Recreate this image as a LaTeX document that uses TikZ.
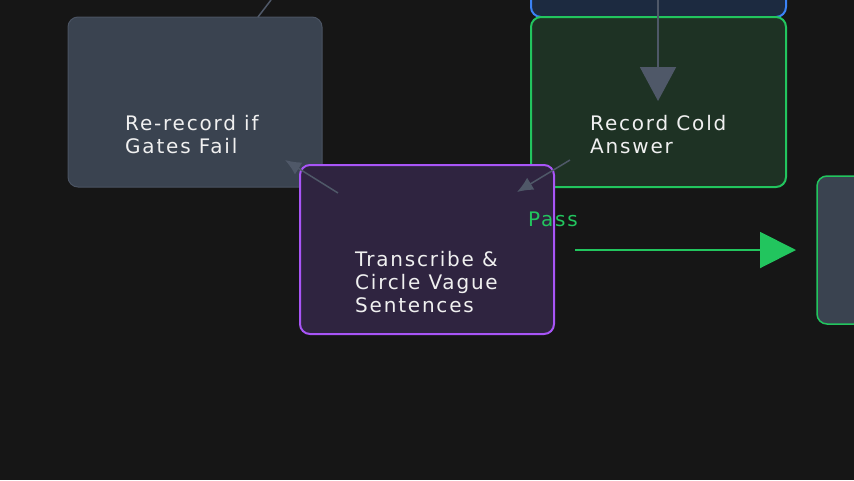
\documentclass[tikz,border=0pt]{standalone}
\usepackage{fontspec}
\setmainfont{DejaVu Sans}[LetterSpace=9]
\usetikzlibrary{arrows.meta}
\definecolor{bg}{HTML}{161616}
\definecolor{grayfill}{HTML}{3A4350}
\definecolor{grayline}{HTML}{4A5362}
\definecolor{conn}{HTML}{4F5868}
\definecolor{gfill}{HTML}{1E3224}
\definecolor{gline}{HTML}{22C55E}
\definecolor{pfill}{HTML}{2F2440}
\definecolor{pline}{HTML}{A855F7}
\definecolor{bfill}{HTML}{1C2A40}
\definecolor{bline}{HTML}{3B82F6}
\definecolor{txt}{HTML}{F0F0F0}
\tikzset{
 box/.style={rounded corners=10pt, line width=2pt},
 lbl/.style={text=txt, font=\fontsize{20}{23}\selectfont, align=left, anchor=west, inner sep=0pt},
 thin/.style={draw=conn, line width=1.5pt, -{Latex[length=16pt,width=14pt]}},
}
\begin{document}
\begin{tikzpicture}[x=1pt,y=-1pt]
\fill[bg] (0,0) rectangle (854,480);
\useasboundingbox (0,0) rectangle (854,480);
\draw[box, fill=bfill, draw=bline] (531,-30) rectangle (786,17);
\draw[box, fill=grayfill, draw=grayline, line width=1pt] (68,17) rectangle (322,187);
\draw[box, fill=gfill, draw=gline] (531,17) rectangle (786,187);
\draw[box, fill=pfill, draw=pline] (300,165) rectangle (554,334);
\draw[box, fill=grayfill, draw=gline, line width=1.5pt] (817,176) rectangle (900,324);
\node[lbl] (rr) at (125,135) {Re-record if\\Gates Fail};
\node[lbl] (rc) at (590,135) {Record Cold\\Answer};
\node[lbl] (tc) at (355,282) {Transcribe \&\\Circle Vague\\Sentences};
\node[text=gline, font=\fontsize{20}{23}\selectfont, inner sep=0pt] (pass) at (553,219) {Pass};
\coordinate (t0) at (658,0); \coordinate (t1) at (658,101);
\draw[draw=conn, line width=2pt, -{Triangle[length=34pt,width=36pt]}] (t0) -- (t1);
\coordinate (u0) at (258,17); \coordinate (u1) at (271,0);
\draw[draw=conn, line width=1.5pt] (u0) -- (u1);
\coordinate (a0) at (338,193); \coordinate (a1) at (285,160);
\draw[thin] (a0) -- (a1);
\coordinate (b0) at (570,160); \coordinate (b1) at (517,192);
\draw[thin] (b0) -- (b1);
\coordinate (g0) at (575,250); \coordinate (g1) at (796,250);
\draw[draw=gline, line width=2pt, -{Triangle[length=36pt,width=36pt]}] (g0) -- (g1);
\end{tikzpicture}
\end{document}
